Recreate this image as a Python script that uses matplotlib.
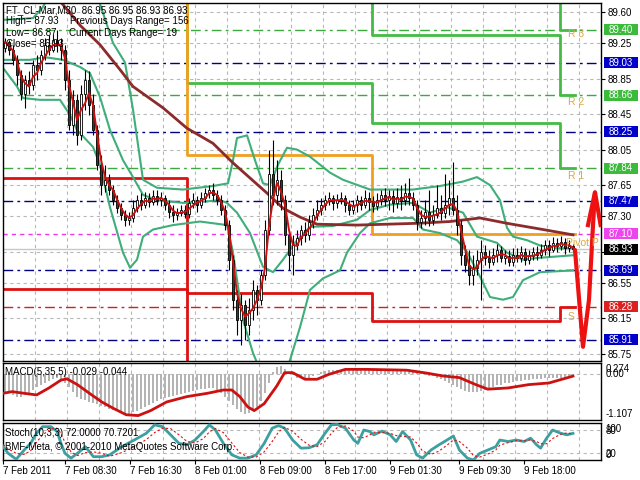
import matplotlib
matplotlib.use('Agg')
import matplotlib.pyplot as plt
import numpy as np
import pandas as pd
from matplotlib.patches import Rectangle
from matplotlib.transforms import blended_transform_factory

plt.rcParams['font.family'] = ['Liberation Sans', 'DejaVu Sans']

# ---------------- price data (M30 bars) ----------------
opens = [89.19, 89.26, 89.17, 89.06, 88.89, 88.67, 88.83, 88.78, 89.00, 88.95,
         89.12, 89.23, 89.17, 89.28, 89.23, 89.17, 88.83, 88.33, 88.61, 88.21,
         88.67, 88.83, 88.55, 88.27, 87.88, 87.65, 87.71, 87.60, 87.48, 87.39,
         87.31, 87.26, 87.28, 87.39, 87.48, 87.43, 87.51, 87.46, 87.53, 87.48,
         87.51, 87.43, 87.35, 87.31, 87.34, 87.37, 87.33, 87.45, 87.48, 87.43,
         87.51, 87.56, 87.60, 87.54, 87.48, 87.37, 87.20, 86.81, 86.36, 86.13,
         86.30, 86.08, 86.24, 86.47, 86.36, 86.64, 87.15, 87.77, 87.54, 87.71,
         87.48, 87.09, 86.86, 86.98, 87.06, 87.15, 87.09, 87.24, 87.31, 87.37,
         87.43, 87.48, 87.51, 87.45, 87.48, 87.51, 87.43, 87.37, 87.43, 87.48,
         87.43, 87.51, 87.46, 87.42, 87.48, 87.54, 87.48, 87.53, 87.45, 87.52,
         87.48, 87.56, 87.51, 87.43, 87.24, 87.28, 87.35, 87.26, 87.31, 87.39,
         87.34, 87.43, 87.51, 87.37, 87.20, 86.86, 86.75, 86.64, 86.72, 86.81,
         86.90, 86.83, 86.79, 86.86, 86.92, 86.83, 86.85, 86.79, 86.86, 86.83,
         86.90, 86.81, 86.85, 86.90, 86.86, 86.92, 86.98, 86.92, 87.00, 86.97,
         87.01, 86.94, 86.97]
highs = [89.31, 89.28, 89.23, 89.12, 88.95, 88.89, 88.93, 89.06, 89.12, 89.17,
         89.31, 89.34, 89.34, 89.40, 89.31, 89.23, 88.95, 88.72, 88.67, 88.78,
         88.95, 88.93, 88.67, 88.33, 87.99, 87.88, 87.77, 87.65, 87.54, 87.45,
         87.37, 87.35, 87.48, 87.54, 87.56, 87.57, 87.56, 87.60, 87.60, 87.57,
         87.54, 87.48, 87.43, 87.39, 87.43, 87.43, 87.51, 87.56, 87.53, 87.57,
         87.62, 87.65, 87.67, 87.60, 87.54, 87.43, 87.26, 86.86, 86.47, 86.42,
         86.36, 86.38, 86.58, 86.53, 86.69, 87.26, 88.05, 88.16, 87.93, 87.82,
         87.54, 87.15, 87.09, 87.15, 87.20, 87.24, 87.31, 87.39, 87.48, 87.51,
         87.54, 87.57, 87.54, 87.55, 87.57, 87.54, 87.48, 87.48, 87.54, 87.53,
         87.60, 87.57, 87.53, 87.56, 87.60, 87.62, 87.60, 87.60, 87.62, 87.65,
         87.67, 87.73, 87.57, 87.48, 87.37, 87.48, 87.60, 87.43, 87.65, 87.54,
         87.77, 87.71, 87.91, 87.54, 87.26, 86.98, 86.92, 86.86, 86.92, 87.03,
         86.98, 86.92, 86.94, 86.99, 86.97, 86.92, 86.92, 86.94, 86.94, 86.97,
         86.94, 86.92, 86.95, 86.97, 86.99, 87.03, 87.03, 87.07, 87.06, 87.08,
         87.06, 87.03, 86.99]
lows = [89.15, 89.12, 89.00, 88.78, 88.61, 88.52, 88.67, 88.72, 88.83, 88.89,
        89.06, 89.12, 89.15, 89.15, 89.06, 88.72, 88.27, 88.21, 88.10, 88.16,
        88.50, 88.44, 88.21, 87.82, 87.54, 87.57, 87.54, 87.43, 87.34, 87.26,
        87.19, 87.20, 87.24, 87.35, 87.37, 87.39, 87.40, 87.43, 87.43, 87.42,
        87.37, 87.28, 87.24, 87.26, 87.30, 87.28, 87.28, 87.39, 87.35, 87.39,
        87.46, 87.51, 87.48, 87.43, 87.31, 87.15, 86.69, 86.24, 85.96, 85.85,
        85.91, 85.96, 86.13, 86.19, 86.30, 86.58, 87.09, 87.43, 87.43, 87.37,
        86.98, 86.69, 86.64, 86.92, 86.98, 87.01, 87.03, 87.17, 87.26, 87.31,
        87.37, 87.43, 87.37, 87.39, 87.44, 87.35, 87.31, 87.33, 87.35, 87.37,
        87.39, 87.37, 87.35, 87.37, 87.43, 87.42, 87.37, 87.35, 87.39, 87.37,
        87.43, 87.43, 87.37, 87.15, 87.17, 87.20, 87.19, 87.20, 87.28, 87.26,
        87.28, 87.31, 87.31, 87.09, 86.75, 86.67, 86.53, 86.53, 86.64, 86.36,
        86.75, 86.72, 86.75, 86.79, 86.79, 86.76, 86.74, 86.74, 86.79, 86.79,
        86.75, 86.76, 86.81, 86.81, 86.83, 86.86, 86.85, 86.90, 86.90, 86.92,
        86.87, 86.90, 86.90]
closes = [89.26, 89.17, 89.06, 88.89, 88.67, 88.83, 88.78, 89.00, 88.95, 89.12,
          89.23, 89.17, 89.28, 89.23, 89.17, 88.83, 88.33, 88.61, 88.21, 88.67,
          88.83, 88.55, 88.27, 87.88, 87.65, 87.71, 87.60, 87.48, 87.39, 87.31,
          87.26, 87.28, 87.39, 87.48, 87.43, 87.51, 87.46, 87.53, 87.48, 87.51,
          87.43, 87.35, 87.31, 87.34, 87.37, 87.33, 87.45, 87.48, 87.43, 87.51,
          87.56, 87.60, 87.54, 87.48, 87.37, 87.20, 86.81, 86.36, 86.13, 86.30,
          86.08, 86.24, 86.47, 86.36, 86.64, 87.15, 87.77, 87.54, 87.71, 87.48,
          87.09, 86.86, 86.98, 87.06, 87.15, 87.09, 87.24, 87.31, 87.37, 87.43,
          87.48, 87.51, 87.45, 87.48, 87.51, 87.43, 87.37, 87.43, 87.48, 87.43,
          87.51, 87.46, 87.42, 87.48, 87.54, 87.48, 87.53, 87.45, 87.52, 87.48,
          87.56, 87.51, 87.43, 87.24, 87.28, 87.35, 87.26, 87.31, 87.39, 87.34,
          87.43, 87.51, 87.37, 87.20, 86.86, 86.75, 86.64, 86.72, 86.81, 86.90,
          86.83, 86.79, 86.86, 86.92, 86.83, 86.85, 86.79, 86.86, 86.83, 86.90,
          86.81, 86.85, 86.90, 86.86, 86.92, 86.98, 86.92, 87.00, 86.97, 87.01,
          86.94, 86.97, 86.93]

# ---------------- indicator lines (bar index, price) ----------------
bb_up_x = [-0.5, 7, 9.25, 11.25, 23, 27, 30, 32, 34.5, 38, 44.5, 52, 55.75, 57, 58, 60.5, 62.5, 64.5,
           66.25, 68.25, 70.5, 73, 76.25, 81.25, 84.5, 91.25, 102, 108.75, 114.5, 118, 121.25, 123.75,
           125.5, 127, 130.5, 133.75, 138, 142]
bb_up_v = [89.51, 89.53, 89.64, 89.79, 89.79, 89.25, 89.03, 88.50, 87.71, 87.62, 87.60, 87.64, 87.67,
           87.93, 88.18, 88.21, 87.93, 87.67, 87.65, 87.88, 88.07, 88.05, 87.97, 87.79, 87.71, 87.60,
           87.60, 87.64, 87.69, 87.74, 87.65, 87.48, 87.17, 87.07, 87.03, 86.97, 86.94, 86.94]
bb_mid_x = [-0.5, 6.25, 10, 14.5, 18.75, 21.25, 23.75, 26.25, 29.5, 32, 34.5, 38, 44.5, 48.75, 53.75,
            55.5, 58, 61.25, 64.5, 67, 69.5, 73, 76.25, 82, 88, 91.25, 96.25, 102, 106.25, 110.5, 114.5,
            118, 123, 125.5, 129.5, 133, 142]
bb_mid_v = [89.06, 89.06, 89.09, 89.06, 88.98, 88.91, 88.64, 88.27, 87.93, 87.74, 87.54, 87.48, 87.45,
            87.46, 87.48, 87.45, 87.34, 87.11, 86.73, 86.67, 86.81, 87.03, 87.18, 87.19, 87.26, 87.37,
            87.43, 87.45, 87.34, 87.40, 87.34, 87.07, 87.00, 86.89, 86.81, 86.83, 86.86]
bb_low_x = [-0.5, 3, 4.5, 8.75, 13.75, 16.25, 18, 22, 23.75, 26.25, 29.5, 31.25, 33, 34.5, 37, 42, 48.75,
            55.5, 57, 59.5, 62, 63.75, 70.5, 73.75, 76.25, 79.5, 83.75, 85.5, 88.75, 91.25, 96.25, 102,
            104.5, 108.75, 113, 115.5, 118.75, 121.25, 124.5, 127, 129.5, 133.75, 142]
bb_low_v = [88.97, 88.76, 88.63, 88.61, 88.61, 88.44, 88.27, 88.08, 87.88, 87.40, 86.89, 86.72, 86.81,
            87.07, 87.15, 87.20, 87.24, 87.20, 86.89, 86.13, 85.76, 85.57, 85.57, 86.05, 86.47, 86.60,
            86.69, 86.89, 87.11, 87.22, 87.28, 87.28, 87.15, 87.11, 87.03, 86.90, 86.62, 86.39, 86.36,
            86.39, 86.58, 86.67, 86.69]
ma_x = [12.5, 18.75, 23.75, 28.75, 32, 39.5, 45.5, 52, 57, 65.5, 69.5, 73.75, 78, 88, 103, 111.25,
        118.75, 125.5, 134.5, 142]
ma_v = [89.79, 89.45, 89.23, 88.95, 88.76, 88.52, 88.29, 88.12, 87.90, 87.56, 87.39, 87.29, 87.21,
        87.20, 87.22, 87.24, 87.28, 87.22, 87.15, 87.09]

# ---------------- daily pivot levels ----------------
day_start = [-0.5, 45.5, 91.75, 138.75]
day_end = 142.5
pivot_lv = [90.5, 87.99, 87.10, 87.10]
r1_lv = [90.5, 88.80, 88.35, 87.84]
r2_lv = [90.5, 90.5, 89.34, 88.66]
r3_lv = [90.5, 90.5, 90.5, 89.40]
s1_lv = [87.73, 85.0, 85.0, 85.0]
s2_lv = [86.48, 86.44, 86.12, 86.28]

green_lv = [89.40, 88.66, 87.84]
navy_lv = [89.03, 88.25, 87.47, 86.69, 85.91]
pivot_line = 87.10
s_line = 86.28
bid = 86.93

lab_txt = ['R 3', 'R 2', 'R 1', 'Pivot P', 'S']
lab_x = [140.75, 140.75, 140.75, 140.25, 140.75]
lab_v = [89.35, 88.59, 87.75, 87.00, 86.17]

grid_lv = [89.60, 89.25, 88.85, 88.45, 88.05, 87.65, 87.30, 86.90, 86.55, 86.15, 85.75]
grid_lab = ['89.60', '89.25', '88.85', '88.45', '88.05', '87.65', '87.30', '', '86.55', '86.15', '85.75']
box_vals = [89.40, 89.03, 88.66, 88.25, 87.84, 87.47, 87.10, 86.93, 86.69, 86.28, 85.91]
box_cols = ['#3cba3c', '#0000c8', '#3cba3c', '#0000c8', '#3cba3c', '#0000c8', '#ee44ee', '#000000',
            '#0000c8', '#dd2020', '#0000c8']

# forecast arrow
fc_x = [142.5, 144.5, 146, 147, 147.5]
fc_v = [86.92, 85.83, 86.36, 87.20, 87.57]
head_x = [145.75, 147.5, 148.9]
head_v = [87.20, 87.57, 87.20]

# ---------------- MACD ----------------
macd_hist = [-0.42, -0.42, -0.50, -0.54, -0.54, -0.50, -0.45, -0.38, -0.30, -0.25,
             -0.20, -0.17, -0.12, -0.10, -0.12, -0.20, -0.30, -0.42, -0.55, -0.60,
             -0.62, -0.66, -0.70, -0.72, -0.76, -0.80, -0.84, -0.86, -0.90, -0.92,
             -0.94, -0.95, -0.92, -0.90, -0.85, -0.80, -0.75, -0.70, -0.65, -0.60,
             -0.57, -0.55, -0.52, -0.50, -0.47, -0.45, -0.42, -0.40, -0.38, -0.36,
             -0.35, -0.33, -0.34, -0.37, -0.45, -0.55, -0.65, -0.75, -0.85, -0.92,
             -0.95, -0.93, -0.88, -0.80, -0.65, -0.45, -0.20, 0.05, 0.18, 0.20,
             0.12, 0.05, -0.02, -0.08, -0.10, -0.10, -0.08, -0.05, 0.00, 0.05,
             0.08, 0.10, 0.10, 0.10, 0.10, 0.11, 0.12, 0.12, 0.12, 0.12,
             0.11, 0.11, 0.11, 0.10, 0.10, 0.10, 0.09, 0.09, 0.08, 0.08,
             0.07, 0.06, 0.05, 0.03, 0.02, 0.00, -0.03, -0.05, -0.08, -0.12,
             -0.15, -0.20, -0.25, -0.30, -0.35, -0.40, -0.42, -0.43, -0.42, -0.40,
             -0.37, -0.33, -0.30, -0.27, -0.25, -0.22, -0.20, -0.18, -0.16, -0.15,
             -0.14, -0.13, -0.12, -0.12, -0.11, -0.10, -0.10, -0.09, -0.08, -0.08,
             -0.07, -0.06, -0.03]
macd_sig_x = [-0.5, 1.8, 4.8, 7.9, 11, 14, 15.5, 18.1, 21.1, 24.2, 27.2, 30.3, 33.3, 36.4, 40.4, 45.5,
              50.6, 54.6, 56.7, 58.7, 60.7, 62.3, 64.8, 67.9, 69.9, 71.9, 75, 78, 81, 85.1, 90.2,
              100.4, 105.4, 109.5, 113.6, 117.7, 120.7, 125.8, 130.9, 136, 142]
macd_sig_v = [-0.46, -0.42, -0.46, -0.50, -0.33, -0.14, -0.11, -0.25, -0.46, -0.67, -0.83, -0.98, -1.00,
              -0.88, -0.67, -0.54, -0.46, -0.38, -0.38, -0.54, -0.79, -0.88, -0.71, -0.29, 0.04, 0.04,
              -0.12, -0.12, 0.00, 0.12, 0.12, 0.10, 0.03, -0.04, -0.08, -0.25, -0.36, -0.33, -0.25,
              -0.21, -0.044]

# ---------------- Stochastic ----------------
st_x = [-0.5, 0.8, 2.8, 4.8, 6.4, 7.9, 9.4, 11.5, 13, 14,
        15, 16.5, 18.1, 20.1, 22.1, 24.2, 26.2, 29.2, 32.3, 35.3,
        37.4, 39.4, 41.4, 43.5, 45.5, 47.5, 49.6, 51.1, 52.6, 54.6,
        56.7, 58.7, 60.7, 62.8, 64.8, 66.8, 68.4, 69.9, 71.9, 74,
        76, 78, 80, 81.6, 83.1, 85.1, 87.2, 88.2, 89.7, 91.2,
        92.2, 94.3, 96.3, 97.8, 99.4, 101.4, 102.9, 104.4, 106.5, 108.5,
        110.5, 112.1, 113.6, 115.6, 117.1, 118.7, 120.7, 122.7, 123.7, 125.8,
        127.8, 129.8, 131.4, 132.9, 133.9, 135.4, 136.9, 139, 140.5, 142]
st_main = [36, 18, 2, 27, 45, 72, 90, 90, 77, 45,
           18, 5, 18, 36, 9, 9, 14, 36, 54, 72,
           95, 90, 68, 45, 41, 54, 77, 95, 81, 45,
           14, 5, 5, 14, 45, 86, 93, 86, 54, 32,
           33, 41, 72, 95, 96, 86, 54, 45, 81, 77,
           68, 78, 68, 50, 77, 54, 14, 5, 27, 41,
           54, 65, 27, 5, 0, 18, 27, 36, 54, 50,
           54, 50, 59, 41, 32, 59, 81, 72, 68, 72.0]
st_sig = [42, 30, 18, 15, 25, 48, 68, 84, 86, 72,
          47, 22, 12, 20, 22, 18, 10, 20, 36, 55,
          74, 86, 85, 68, 50, 46, 58, 76, 85, 74,
          46, 20, 8, 8, 22, 50, 76, 88, 78, 56,
          40, 36, 50, 72, 88, 92, 78, 62, 60, 68,
          75, 74, 72, 66, 64, 62, 46, 24, 15, 24,
          40, 54, 50, 32, 12, 8, 16, 27, 40, 47,
          52, 52, 54, 50, 44, 44, 58, 70, 73, 70.72]

time_pos = [-0.5, 15, 31.25, 47.5, 63.75, 80, 96.25, 113.5, 129.75]
time_lab = ['7 Feb 2011', '7 Feb 08:30', '7 Feb 16:30', '8 Feb 01:00', '8 Feb 09:00',
            '8 Feb 17:00', '9 Feb 01:30', '9 Feb 09:30', '9 Feb 18:00']
vgrid = [7.5 + 8 * k for k in range(18)]

# ---------------- figure ----------------
fig = plt.figure(figsize=(6.4, 4.8), dpi=100)
fig.patch.set_facecolor('white')


def fbox(x0, y0, x1, y1):
    return [x0 / 640, 1 - y1 / 480, (x1 - x0) / 640, (y1 - y0) / 480]


ax = fig.add_axes(fbox(3, 3, 601, 361))
axm = fig.add_axes(fbox(3, 363, 601, 420))
axs = fig.add_axes(fbox(3, 423, 601, 460))

XL = (-0.5, 149)
GRID = dict(color='#b8b8b8', lw=0.8, ls=(0, (3, 3)), zorder=0.5)
FS = 7

# ----- main chart -----
ax.set_xlim(*XL)
ax.set_ylim(85.67, 89.70)
for g in grid_lv:
    ax.axhline(g, **GRID)
for v in vgrid:
    ax.axvline(v, **GRID)
for g in green_lv:
    ax.axhline(g, color='#3caa3c', lw=1, ls=(0, (7, 3, 2, 3)), zorder=1)
for g in navy_lv:
    ax.axhline(g, color='#000080', lw=1, ls=(0, (7, 3, 2, 3)), zorder=1)
ax.axhline(pivot_line, color='#ee33ee', lw=1, ls=(0, (3, 3)), zorder=1)
ax.axhline(s_line, color='#cc2222', lw=1, ls=(0, (7, 3, 2, 3)), zorder=1)
ax.axhline(bid, color='#c8c8c8', lw=1, zorder=0.8)

sx = day_start + [day_end]
for lv, col in [(r1_lv, '#44bb44'), (r2_lv, '#44bb44'), (r3_lv, '#44bb44'),
                (pivot_lv, '#f0a020'), (s1_lv, '#dd1111'), (s2_lv, '#dd1111')]:
    ax.plot(sx, lv + [lv[-1]], drawstyle='steps-post', color=col, lw=2, zorder=2)

ax.plot(bb_up_x, bb_up_v, color='#3fae7a', lw=1.5, zorder=2)
ax.plot(bb_mid_x, bb_mid_v, color='#3fae7a', lw=1.5, zorder=2)
ax.plot(bb_low_x, bb_low_v, color='#3fae7a', lw=1.5, zorder=2)
ax.plot(ma_x, ma_v, color='#8c2b2b', lw=2, zorder=2.2)

o = np.array(opens); h = np.array(highs); l = np.array(lows); c = np.array(closes)
x = np.arange(len(c))
bull = c >= o
ax.vlines(x, l, h, color='black', lw=0.8, zorder=3)
ax.bar(x[bull], np.maximum(c - o, 0.004)[bull], bottom=o[bull], width=0.7,
       facecolor='white', edgecolor='black', lw=0.6, zorder=4)
ax.bar(x[~bull], (o - c)[~bull], bottom=c[~bull], width=0.7,
       facecolor='#1b4d1b', edgecolor='black', lw=0.6, zorder=4)
fast = pd.Series(closes).rolling(3, min_periods=1).mean()
ax.plot(x, fast, color='#cc1010', lw=1.4, zorder=5)

ax.plot(fc_x, fc_v, color='#ee1111', lw=3, zorder=6, solid_capstyle='round')
ax.plot(head_x, head_v, color='#ee1111', lw=3, zorder=6, solid_joinstyle='miter')

for t, xx, vv in zip(lab_txt, lab_x, lab_v):
    ax.text(xx, vv, t, color='#dba842', fontsize=7.5, ha='left', va='center',
            clip_on=True, zorder=7)

ax.yaxis.tick_right()
ax.set_yticks(grid_lv)
ax.set_yticklabels(grid_lab)
ax.tick_params(axis='y', direction='out', length=3, width=0.8, pad=2, labelsize=FS)
ax.set_xticks([])
for sp in ax.spines.values():
    sp.set_color('black'); sp.set_linewidth(1)

trans = blended_transform_factory(ax.transAxes, ax.transData)
for val, col in zip(box_vals, box_cols):
    ax.add_patch(Rectangle((1.005, val - 0.062), 0.057, 0.124, transform=trans,
                           facecolor=col, edgecolor='none', clip_on=False, zorder=8))
    ax.text(1.0334, val, f"{val:.2f}", transform=trans, color='white', fontsize=FS,
            ha='center', va='center', clip_on=False, zorder=9)

# ----- MACD -----
axm.set_xlim(*XL)
axm.set_ylim(-1.107, 0.274)
for v in vgrid:
    axm.axvline(v, **GRID)
axm.axhline(0, **GRID)
axm.bar(x, macd_hist, width=0.5, color='#b4b4b4', zorder=2)
axm.plot(macd_sig_x, macd_sig_v, color='#cc1111', lw=2, zorder=3)
axm.set_xticks([]); axm.set_yticks([])
for sp in axm.spines.values():
    sp.set_color('black'); sp.set_linewidth(1)
axm.text(1.008, 0.895, '0.274', transform=axm.transAxes, fontsize=FS, va='center', ha='left')
axm.text(1.008, 0.80, '0.00', transform=axm.transAxes, fontsize=FS, va='center', ha='left')
axm.text(1.008, 0.105, '-1.107', transform=axm.transAxes, fontsize=FS, va='center', ha='left')

# ----- Stochastic -----
axs.set_xlim(*XL)
axs.set_ylim(0, 100)
for v in vgrid:
    axs.axvline(v, **GRID)
axs.axhline(80, **GRID)
axs.axhline(20, **GRID)
axs.plot(st_x, st_main, color='#3d9fa0', lw=2, zorder=3)
axs.plot(st_x, st_sig, color='#dd1111', lw=0.8, ls=(0, (2, 2)), zorder=4)
axs.set_yticks([])
axs.set_xticks(time_pos)
axs.set_xticklabels(time_lab, fontsize=FS)
for lbl in axs.get_xticklabels():
    lbl.set_ha('left')
axs.tick_params(axis='x', direction='out', length=3, width=0.8, pad=1.5)
for sp in axs.spines.values():
    sp.set_color('black'); sp.set_linewidth(1)
axs.text(1.008, 0.84, '100', transform=axs.transAxes, fontsize=FS, va='center', ha='left')
axs.text(1.008, 0.79, '80', transform=axs.transAxes, fontsize=FS, va='center', ha='left')
axs.text(1.008, 0.16, '20', transform=axs.transAxes, fontsize=FS, va='center', ha='left')
axs.text(1.008, 0.13, '0', transform=axs.transAxes, fontsize=FS, va='center', ha='left')

# ----- header texts -----
def ftxt(px, py, s):
    fig.text(px / 640, 1 - py / 480, s, fontsize=FS, color='black', ha='left', va='center', zorder=10)

ftxt(6, 10, 'FT_CL-Mar,M30  86.95 86.95 86.93 86.93')
ftxt(6, 21, 'High= 87.93')
ftxt(70, 21, 'Previous Days Range= 156')
ftxt(6, 33, 'Low= 86.87')
ftxt(69, 33, 'Current Days Range= 19')
ftxt(6, 44, 'Close= 86.93')
ftxt(5, 372, 'MACD(5,35,5) -0.029 -0.044')
ftxt(5, 433, 'Stoch(10,3,3) 72.0000 70.7201')
ftxt(5, 447, 'BMF-Meta, \u00a9 2001-2010 MetaQuotes Software Corp.')

fig.savefig('out.png', dpi=100)
